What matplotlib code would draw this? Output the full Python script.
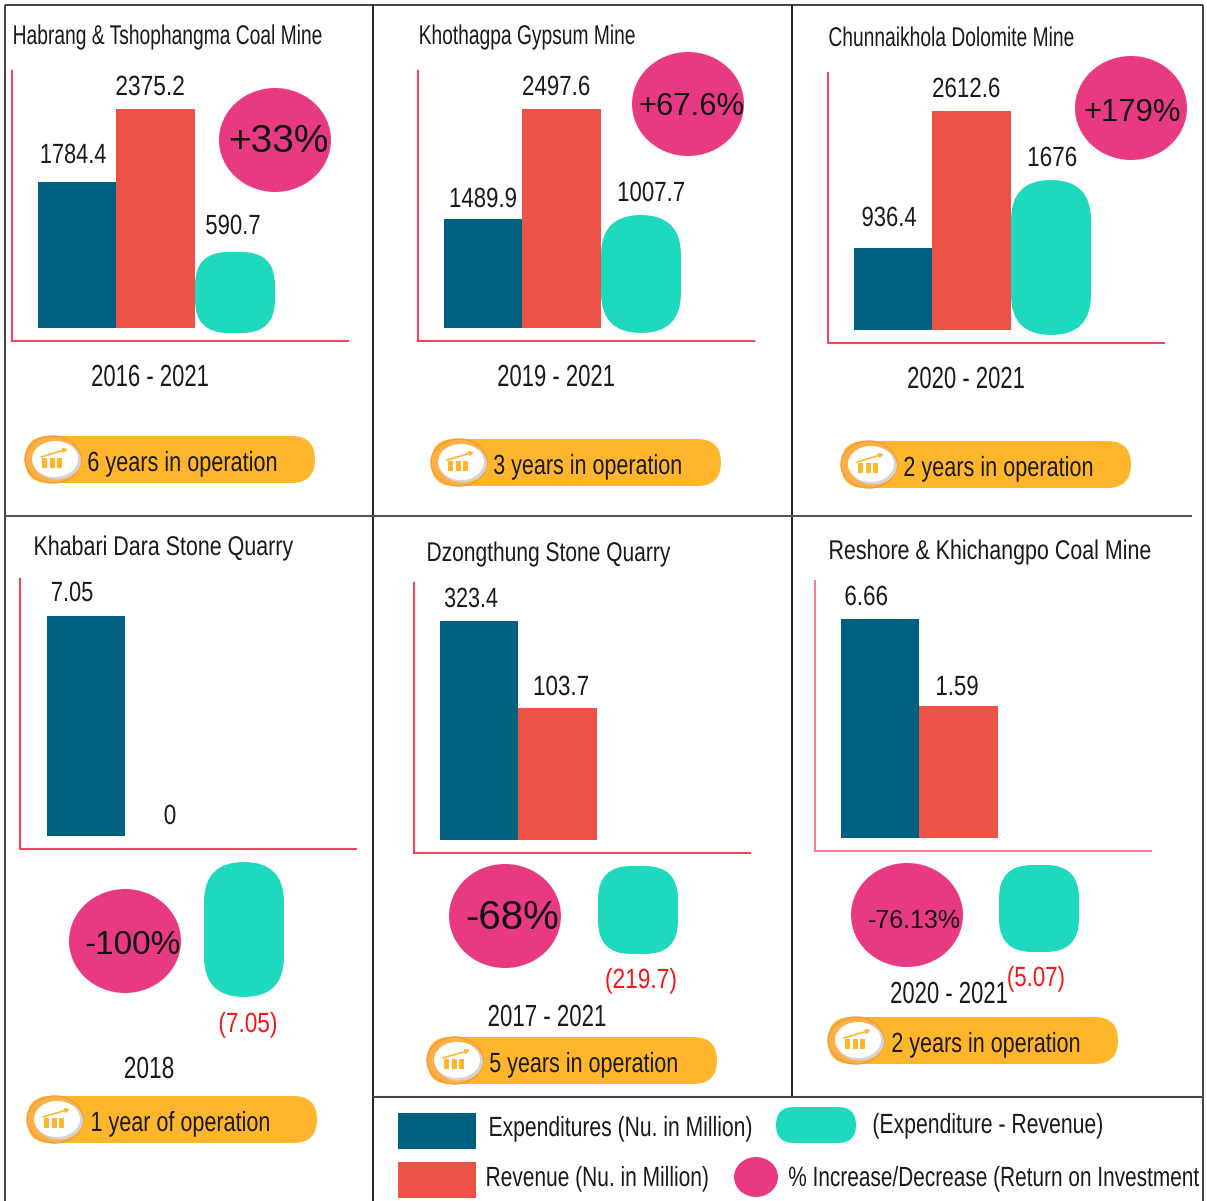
import matplotlib
matplotlib.use('Agg')
import matplotlib.pyplot as plt
from matplotlib.patches import Ellipse, FancyBboxPatch, Rectangle
from matplotlib.patheffects import AbstractPathEffect
from matplotlib.transforms import Affine2D

plt.rcParams['font.family'] = ['Liberation Sans', 'DejaVu Sans']

W, H = 1207, 1201

titles = ['Habrang & Tshophangma Coal Mine', 'Khothagpa Gypsum Mine', 'Chunnaikhola Dolomite Mine',
          'Khabari Dara Stone Quarry', 'Dzongthung Stone Quarry', 'Reshore & Khichangpo Coal Mine']
expenditure_labels = ['1784.4', '1489.9', '936.4', '7.05', '323.4', '6.66']
revenue_labels = ['2375.2', '2497.6', '2612.6', '0', '103.7', '1.59']
difference_labels = ['590.7', '1007.7', '1676', '(7.05)', '(219.7)', '(5.07)']
percent_labels = ['+33%', '+67.6%', '+179%', '-100%', '-68%', '-76.13%']
period_labels = ['2016 - 2021', '2019 - 2021', '2020 - 2021', '2018', '2017 - 2021', '2020 - 2021']
operation_labels = ['6 years in operation', '3 years in operation', '2 years in operation',
                    '1 year of operation', '5 years in operation', '2 years in operation']

# bars in the source are hand drawn and not to scale, so these are the drawn heights
expenditure_drawn = [146, 109, 82, 220, 219, 219]
revenue_drawn = [219, 219, 219, 0, 132, 132]

color_blue = '#00607F'
color_red = '#EC5346'
color_teal = '#1ED9BD'
color_pink = '#E83A82'
color_yellow = '#FFB62C'
color_axis = '#F0455F'
color_text = '#1a1a1a'

# layout per panel, in pixels of the picture
axes_box = [(12, 71), (418, 71), (828, 73), (20, 579), (414, 583), (815, 581)]
bar_start = [26, 26, 26, 27, 26, 26]
title_pos = [(12, 35), (418, 35), (828, 37), (33, 546), (426, 552), (828, 550)]
title_w = [311, 217, 247, 261, 245, 324]
exp_label_pos = [(73, 154), (483, 198), (889, 217), (72, 592), (471, 598), (866, 596)]
exp_label_w = [65, 66, 54, 41, 53, 42]
rev_label_pos = [(150, 86), (556, 86), (966, 88), (170, 815), (561, 686), (957, 686)]
rev_label_w = [68, 67, 67, 11, 54, 41]
dif_label_pos = [(233, 225), (651, 192), (1052, 157), (248, 1023), (641, 979), (1036, 977)]
dif_label_w = [54, 66, 48, 57, 70, 56]
teal_box = [(195, 252, 275, 333), (601, 215, 681, 333), (1011, 180, 1091, 335),
            (204, 862, 284, 997), (598, 866, 678, 954), (999, 865, 1079, 952)]
teal_rad = [33, 40, 40, 40, 33, 33]
ellipse_pos = [(275, 140), (688, 104), (1131, 108), (125, 941), (505, 916), (907, 915)]
percent_pos = [(278, 139), (692, 104), (1132, 110), (133, 943), (512, 915), (914, 918)]
percent_size = [28, 22.3, 22.3, 24, 29, 18]
period_pos = [(150, 376), (556, 376), (966, 378), (149, 1068), (547, 1016), (949, 993)]
period_w = [117, 117, 117, 49, 118, 117]
pill_box = [(25, 436), (431, 439), (841, 441), (27, 1096), (427, 1037), (828, 1017)]
operation_x = [87, 493, 903, 90, 489, 891]
operation_w = [190, 189, 190, 179, 189, 189]


class Squeeze(AbstractPathEffect):
    # the source text is a horizontally squashed Arial, no narrow face is installed
    def __init__(self, width, center=False):
        super().__init__()
        self.width = width
        self.center = center

    def draw_path(self, renderer, gc, tpath, affine, rgbFace=None):
        ext = tpath.get_extents()
        sx = 0.988 * self.width / (ext.width * affine.get_matrix()[0, 0])
        anchor = (ext.x0 + ext.x1) / 2 if self.center else ext.x0
        squeezed = Affine2D().translate(-anchor, 0).scale(sx, 1).translate(anchor, 0) + affine
        renderer.draw_path(gc, tpath, squeezed, rgbFace)


def label(ax, pos, s, width, size=20, color=color_text, center=True):
    ax.text(pos[0], pos[1] + 2, s, fontsize=size, color=color, va='center',
            ha='center' if center else 'left', path_effects=[Squeeze(width, center)])


def rounded(ax, x0, y0, x1, y1, color, rad=26):
    rad = min(rad, (x1 - x0) / 2, (y1 - y0) / 2)
    ax.add_patch(FancyBboxPatch((x0 + rad, y0 + rad), x1 - x0 - 2 * rad, y1 - y0 - 2 * rad,
                                boxstyle='round,pad=%f,rounding_size=%f' % (rad, rad),
                                fc=color, ec='none', clip_on=False))


fig = plt.figure(figsize=(W / 100, H / 100), dpi=100, facecolor='white')
over = fig.add_axes([0, 0, 1, 1], zorder=3)
over.set_xlim(0, W)
over.set_ylim(H, 0)
over.axis('off')
over.patch.set_alpha(0)

# frame
for x0, y0, x1, y1, c, lw in [(5, 5, 1203, 5, '#222222', 1.2), (5, 5, 5, 1201, '#222222', 1.2),
                              (1203, 5, 1203, 1201, '#222222', 1.2), (373, 5, 373, 1201, '#222222', 1.4),
                              (792, 5, 792, 1097, '#222222', 1.4), (5, 516, 1192, 516, '#555555', 1.5),
                              (373, 1097, 1203, 1097, '#444444', 1.5)]:
    over.plot([x0, x1], [y0, y1], color=c, lw=lw, solid_capstyle='butt')

for i in range(6):
    left, top = axes_box[i]
    ax = fig.add_axes([left / W, 1 - (top + 270) / H, 336 / W, 270 / H])
    ax.set_xlim(0, 336)
    ax.set_ylim(-13, 257)
    for s in ['top', 'right']:
        ax.spines[s].set_visible(False)
    for s in ['left', 'bottom']:
        ax.spines[s].set_color(color_axis if i != 5 else '#F57F90')
        ax.spines[s].set_linewidth(1.5)
    ax.set_xticks([])
    ax.set_yticks([])
    s = bar_start[i]
    ax.bar(s, expenditure_drawn[i], width=78, align='edge', color=color_blue)
    ax.bar(s + 78, revenue_drawn[i], width=79, align='edge', color=color_red)

    label(over, title_pos[i], titles[i], title_w[i], size=19.5, center=False)
    label(over, exp_label_pos[i], expenditure_labels[i], exp_label_w[i])
    label(over, rev_label_pos[i], revenue_labels[i], rev_label_w[i])
    label(over, dif_label_pos[i], difference_labels[i], dif_label_w[i],
          color=color_text if i < 3 else '#F01818')

    x0, y0, x1, y1 = teal_box[i]
    rounded(over, x0, y0, x1, y1, color_teal, rad=teal_rad[i])

    over.add_patch(Ellipse(ellipse_pos[i], 112, 104, fc=color_pink, ec='none'))
    over.text(percent_pos[i][0], percent_pos[i][1] + 3, percent_labels[i], fontsize=percent_size[i],
              color='#111111', va='center', ha='center', zorder=5)

    label(over, period_pos[i], period_labels[i], period_w[i], size=22)

    # years in operation pill with its little icon
    px, py = pill_box[i]
    rounded(over, px, py, px + 290, py + 47, color_yellow, rad=23.5)
    over.add_patch(Ellipse((px + 28, py + 23.5), 56, 47, fc='#FDB045', ec='#F79A3A', lw=1))
    over.add_patch(Ellipse((px + 32, py + 24.5), 48, 38, fc='#D4D4D4', ec='none'))
    over.add_patch(Ellipse((px + 30, py + 23), 46, 36, fc='white', ec='none'))
    for dx in [17, 25, 32]:
        over.add_patch(Rectangle((px + dx, py + 22), 4.5, 10, fc='#FFB62C', ec='none'))
    over.annotate('', xy=(px + 43, py + 13), xytext=(px + 16, py + 21),
                  arrowprops=dict(arrowstyle='-|>', color='#FFB62C', lw=1.2, mutation_scale=6,
                                  shrinkA=0, shrinkB=0))
    label(over, (operation_x[i], py + 26), operation_labels[i], operation_w[i], center=False)

# legend
over.add_patch(Rectangle((398, 1113), 78, 36, fc=color_blue, ec='none'))
over.add_patch(Rectangle((398, 1162), 78, 36, fc=color_red, ec='none'))
rounded(over, 776, 1107, 856, 1143, color_teal, rad=18)
over.add_patch(Ellipse((756, 1177), 44, 40, fc=color_pink, ec='none'))
label(over, (488, 1127), 'Expenditures (Nu. in Million)', 264, center=False)
label(over, (872, 1124), '(Expenditure - Revenue)', 231, center=False)
label(over, (485, 1177), 'Revenue (Nu. in Million)', 223, center=False)
label(over, (788, 1177), '% Increase/Decrease (Return on Investment', 415, center=False)

fig.savefig('out.png', dpi=100, facecolor='white')
